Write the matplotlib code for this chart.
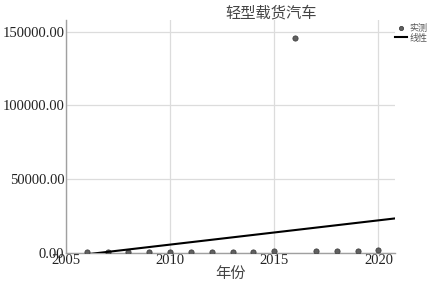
import numpy as np
import matplotlib
matplotlib.use("Agg")
import matplotlib.pyplot as plt
from matplotlib.ticker import FormatStrFormatter

plt.rcParams['font.family'] = ['Liberation Serif', 'Noto Sans CJK SC']

# 数据
years = [2006, 2007, 2008, 2009, 2010, 2011, 2012, 2013, 2014, 2015,
         2016, 2017, 2018, 2019, 2020]
values = [300, 400, 500, 500, 600, 700, 700, 800, 900, 1000,
          146000, 1200, 1300, 1500, 1800]

x = np.array(years, dtype=float)
y = np.array(values, dtype=float)
k, b = np.polyfit(x, y, 1)
x_end = 2020.8
xl = np.array([x.min(), x_end])

fig = plt.figure(figsize=(4.39, 2.90), dpi=100)
ax = fig.add_axes([0.150, 0.128, 0.750, 0.803])

ax.grid(True, color='#dcdcdc', linewidth=0.9)
ax.set_axisbelow(True)
ax.scatter(x, y, s=14, color='#606060', edgecolors='#404040', linewidths=0.6,
           zorder=3, label='实测')
ax.plot(xl, k * xl + b, color='black', linewidth=1.5, zorder=4, label='线性')

ax.set_xlim(2005, x_end)
ax.set_ylim(0, 158000)
ax.set_xticks([2005, 2010, 2015, 2020])
ax.set_yticks([0, 50000, 100000, 150000])
ax.yaxis.set_major_formatter(FormatStrFormatter('%.2f'))
ax.tick_params(length=0, labelsize=10.5, pad=1, colors='#222222')

for s in ['top', 'right']:
    ax.spines[s].set_visible(False)
for s in ['left', 'bottom']:
    ax.spines[s].set_color('#a0a0a0')
    ax.spines[s].set_linewidth(1.0)

ax.set_xlabel('年份', fontsize=11, labelpad=0, color='#444444')
fig.text(0.617, 0.955, '轻型载货汽车', fontsize=11, ha='center', va='center',
         color='#444444')

ax.legend(loc='upper left', bbox_to_anchor=(0.99, 1.0), frameon=False,
          fontsize=6.5, handlelength=1.3, handletextpad=0.3, borderaxespad=0,
          labelspacing=0.1, markerscale=0.8, labelcolor='#555555')

fig.savefig('out.png', dpi=100)
